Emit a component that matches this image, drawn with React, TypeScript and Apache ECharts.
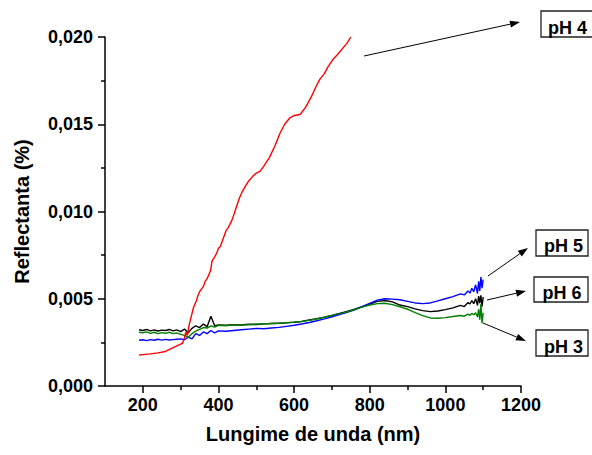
import React, { useEffect, useRef } from "react";
import * as echarts from "echarts";

// wavelengths (nm) for pH 3, pH 5, pH 6
const wl = [
  190, 200, 210, 220, 230, 240, 250, 260, 270, 280,
  290, 300, 310, 320, 330, 340, 350, 360, 370, 380,
  390, 400, 420, 440, 460, 480, 500, 520, 540, 560,
  580, 600, 620, 640, 660, 680, 700, 720, 740, 760,
  780, 800, 820, 840, 860, 880, 900, 920, 940, 960,
  980, 1000, 1020, 1040, 1050, 1060, 1065, 1070, 1075, 1080,
  1085, 1088, 1091, 1094, 1097, 1100,
];

const ph6 = [
  0.00322, 0.00318, 0.00324, 0.00316, 0.00322, 0.00315, 0.0032, 0.00318, 0.00324, 0.00316,
  0.00322, 0.00312, 0.00326, 0.00305, 0.0033, 0.00345, 0.00335, 0.00355, 0.0034, 0.004,
  0.00345, 0.0035, 0.00348, 0.00352, 0.0035, 0.00354, 0.00352, 0.00356, 0.00358, 0.0036,
  0.00362, 0.00365, 0.0037, 0.00378, 0.00386, 0.00395, 0.00405, 0.00416, 0.00428, 0.0044,
  0.00455, 0.0047, 0.00485, 0.0049, 0.00482, 0.00464, 0.00455, 0.00442, 0.00432, 0.00426,
  0.0043, 0.00438, 0.00448, 0.00462, 0.00455, 0.00478, 0.0047, 0.0049, 0.00472, 0.005,
  0.00462, 0.00515, 0.00475, 0.0052, 0.00455, 0.0051,
];

const ph5 = [
  0.00262, 0.00265, 0.0026, 0.00266, 0.00262, 0.00268, 0.00263, 0.00267, 0.00264, 0.00266,
  0.00268, 0.0027, 0.00265, 0.0028, 0.0027, 0.003, 0.0029, 0.0031, 0.003, 0.00318,
  0.00305, 0.00316, 0.00314, 0.00318, 0.00322, 0.00326, 0.0033, 0.00328, 0.00332, 0.00336,
  0.00342, 0.00348, 0.00355, 0.00364, 0.00374, 0.00385, 0.00397, 0.0041, 0.00422, 0.00436,
  0.00455, 0.00474, 0.00492, 0.005, 0.00498, 0.00494, 0.00485, 0.00476, 0.00472, 0.00476,
  0.00488, 0.005, 0.00512, 0.00528, 0.00522, 0.00545, 0.00532, 0.0056, 0.0054, 0.0058,
  0.0053, 0.006, 0.00545, 0.00625, 0.0056, 0.0061,
];

const ph3 = [
  0.00308, 0.00305, 0.0031, 0.00302, 0.00308, 0.003, 0.00306, 0.00302, 0.00308, 0.003,
  0.00304, 0.00296, 0.0029, 0.0028, 0.003, 0.00315, 0.00325, 0.00335, 0.00332, 0.00345,
  0.00338, 0.00348, 0.00345, 0.0035, 0.00348, 0.00352, 0.00355, 0.00356, 0.00358, 0.0036,
  0.00363, 0.00366, 0.0037, 0.00376, 0.00384, 0.00394, 0.00405, 0.00415, 0.00425, 0.00438,
  0.00452, 0.00464, 0.00472, 0.00474, 0.00466, 0.00454, 0.0044, 0.0042, 0.00403, 0.0039,
  0.00388, 0.00392, 0.00398, 0.00404, 0.004, 0.00412, 0.00405, 0.00416, 0.00408, 0.0042,
  0.00395, 0.0044, 0.0038, 0.0047, 0.0036, 0.0042,
];

// pH 4 (red) has its own wavelength grid
const wl4 = [
  190, 200, 220, 240, 260, 280, 300, 305, 310, 314,
  318, 322, 326, 330, 334, 338, 342, 346, 350, 355,
  360, 365, 370, 375, 379, 383, 390, 395, 400, 405,
  410, 415, 420, 425, 430, 436, 442, 448, 455, 462,
  471, 480, 490, 500, 510, 520, 535, 550, 563, 575,
  589, 600, 616, 630, 645, 660, 668, 680, 690, 703,
  715, 730, 740, 750,
];
const ph4 = [
  0.00178, 0.0018, 0.00184, 0.0019, 0.00198, 0.0022, 0.0024, 0.00245, 0.00275, 0.0031,
  0.0029, 0.00345, 0.0038, 0.00415, 0.0045, 0.0047, 0.0049, 0.0052, 0.0054, 0.00555,
  0.0057, 0.006, 0.00615, 0.0064, 0.0066, 0.00715, 0.0074, 0.0076, 0.0079, 0.008,
  0.0083, 0.0086, 0.0089, 0.00905, 0.00925, 0.00952, 0.0099, 0.0103, 0.01075, 0.0111,
  0.01144, 0.01175, 0.012, 0.0122, 0.0123, 0.0126, 0.0131, 0.0138, 0.0145, 0.015,
  0.01537, 0.0155, 0.01556, 0.01595, 0.01655, 0.01725, 0.01757, 0.0179, 0.0183, 0.01872,
  0.019, 0.01939, 0.01965, 0.02,
];

const xMajorTicks = [200, 400, 600, 800, 1000, 1200];
const xMinorTicks = [300, 500, 700, 900, 1100];

const FONT = "'Liberation Sans', Arial, Helvetica, sans-serif";

function pairs(xs: number[], ys: number[]) {
  return xs.map((x, i) => [x, ys[i]]);
}

function arrow(x1: number, y1: number, x2: number, y2: number) {
  const dx = x2 - x1;
  const dy = y2 - y1;
  const len = Math.sqrt(dx * dx + dy * dy);
  const ux = dx / len;
  const uy = dy / len;
  const hl = 10;
  const hw = 3.5;
  const bx = x2 - ux * hl;
  const by = y2 - uy * hl;
  return [
    {
      type: "line",
      shape: { x1, y1, x2: bx, y2: by },
      style: { stroke: "#000", lineWidth: 1 },
      silent: true,
    },
    {
      type: "polygon",
      shape: {
        points: [
          [x2, y2],
          [bx - uy * hw, by + ux * hw],
          [bx + uy * hw, by - ux * hw],
        ],
      },
      style: { fill: "#000" },
      silent: true,
    },
  ];
}

function label(text: string, bx: number, by: number, bw: number, bh: number, tx: number, ty: number) {
  return [
    {
      type: "rect",
      shape: { x: bx, y: by, width: bw, height: bh },
      style: { fill: "#fff", stroke: "#222", lineWidth: 1.3 },
      silent: true,
    },
    {
      type: "text",
      x: tx,
      y: ty,
      style: {
        text,
        fill: "#000",
        font: `bold 18px ${FONT}`,
        align: "left",
        verticalAlign: "middle",
      },
      silent: true,
    },
  ];
}

export default function App() {
  const ref = useRef<HTMLDivElement>(null);

  useEffect(() => {
    if (!ref.current) return;
    const chart = echarts.init(ref.current, undefined, { renderer: "svg" });
    const axisLine = { show: true, lineStyle: { color: "#000", width: 1.5 } };
    const labelStyle = {
      color: "#000",
      fontFamily: FONT,
      fontWeight: "bold" as const,
      fontSize: 18,
    };
    const lw = 1.4;
    const option: any = {
      animation: false,
      backgroundColor: "#fff",
      grid: {
        left: 105,
        right: 71,
        top: 37,
        bottom: 69,
        containLabel: false,
        outerBoundsMode: "none",
      },
      xAxis: [
        {
          type: "value",
          position: "bottom",
          min: 100,
          max: 1200,
          interval: 100,
          axisLine,
          axisTick: {
            show: true,
            length: 7,
            customValues: xMajorTicks,
            lineStyle: { color: "#000", width: 1.5 },
          },
          axisLabel: {
            ...labelStyle,
            margin: 10,
            customValues: xMajorTicks,
            formatter: (v: number) => String(v),
          },
          splitLine: { show: false },
          name: "Lungime de unda (nm)",
          nameLocation: "middle",
          nameGap: 38,
          nameTextStyle: { ...labelStyle, fontSize: 20 },
        },
        {
          type: "value",
          position: "bottom",
          min: 100,
          max: 1200,
          interval: 100,
          axisLine: { show: false },
          axisTick: {
            show: true,
            length: 4,
            customValues: xMinorTicks,
            lineStyle: { color: "#000", width: 1.5 },
          },
          axisLabel: { show: false },
          splitLine: { show: false },
        },
      ],
      yAxis: {
        type: "value",
        min: 0,
        max: 0.02,
        interval: 0.005,
        axisLine,
        axisTick: { show: true, length: 7, lineStyle: { color: "#000", width: 1.5 } },
        minorTick: { show: true, splitNumber: 2, length: 4, lineStyle: { color: "#000", width: 1.5 } },
        minorSplitLine: { show: false },
        splitLine: { show: false },
        axisLabel: {
          ...labelStyle,
          margin: 12,
          formatter: (v: number) => v.toFixed(3).replace(".", ","),
        },
        name: "Reflectanta (%)",
        nameLocation: "middle",
        nameGap: 73,
        nameTextStyle: { ...labelStyle, fontSize: 20 },
      },
      series: [
        {
          name: "pH 6",
          type: "line",
          xAxisIndex: 0,
          data: pairs(wl, ph6),
          showSymbol: false,
          symbol: "none",
          lineStyle: { color: "#000000", width: lw },
          itemStyle: { color: "#000000" },
          clip: false,
        },
        {
          name: "pH 5",
          type: "line",
          xAxisIndex: 0,
          data: pairs(wl, ph5),
          showSymbol: false,
          symbol: "none",
          lineStyle: { color: "#0000ff", width: lw },
          itemStyle: { color: "#0000ff" },
          clip: false,
        },
        {
          name: "pH 3",
          type: "line",
          xAxisIndex: 0,
          data: pairs(wl, ph3),
          showSymbol: false,
          symbol: "none",
          lineStyle: { color: "#008000", width: lw },
          itemStyle: { color: "#008000" },
          clip: false,
        },
        {
          name: "pH 4",
          type: "line",
          xAxisIndex: 0,
          data: pairs(wl4, ph4),
          showSymbol: false,
          symbol: "none",
          lineStyle: { color: "#ff0000", width: lw },
          itemStyle: { color: "#ff0000" },
          clip: false,
        },
      ],
      graphic: [
        ...arrow(364, 56, 520, 22),
        ...arrow(488, 276, 528, 248),
        ...arrow(487, 300, 526, 291),
        ...arrow(483, 323, 526, 341),
        ...label("pH 4", 541, 11, 58, 26, 548, 27.5),
        ...label("pH 5", 536, 230, 52, 26, 544, 246),
        ...label("pH 6", 534, 277, 54, 25, 542.5, 293),
        ...label("pH 3", 536, 330, 52, 26, 544, 346.5),
      ],
    };
    chart.setOption(option);
    return () => chart.dispose();
  }, []);

  return (
    <div
      ref={ref}
      style={{ position: "fixed", left: 0, top: 0, width: 592, height: 455, background: "#fff" }}
    />
  );
}
